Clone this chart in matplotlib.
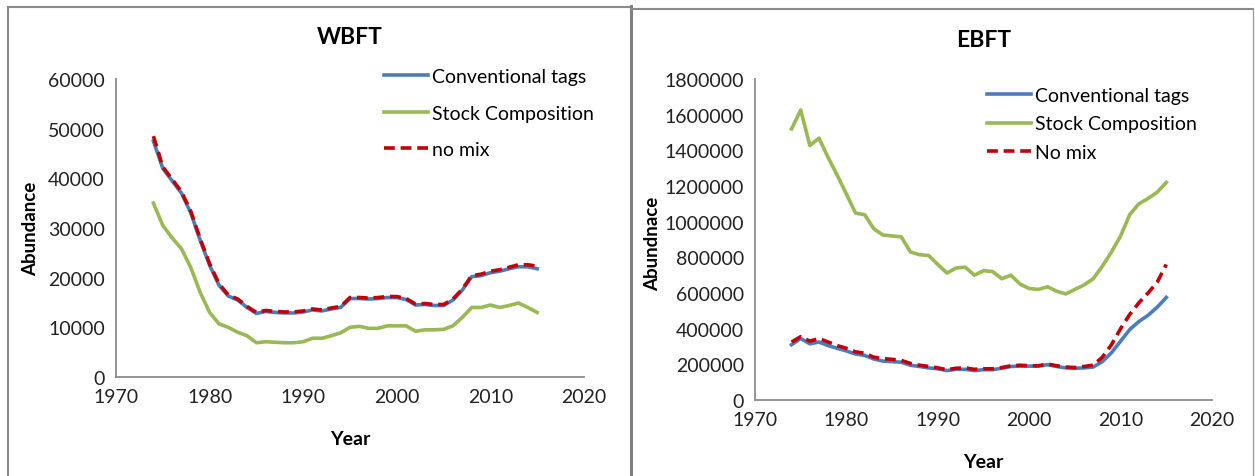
import matplotlib
matplotlib.use("Agg")
import matplotlib.pyplot as plt
from matplotlib.lines import Line2D
from matplotlib.ticker import FuncFormatter

plt.rcParams['font.family'] = ['Lato', 'DejaVu Sans']

years = list(range(1974, 2016))

# WBFT abundance
w_conv = [47500, 42000, 39500, 37000, 33000, 27500, 22500, 18500, 16300, 15500,
          14000, 12800, 13200, 13000, 12900, 12900, 13100, 13500, 13300, 13700,
          14000, 15800, 15800, 15700, 15800, 16000, 16000, 15600, 14500, 14600,
          14400, 14400, 15500, 17500, 20200, 20400, 21000, 21300, 21800, 22200,
          22200, 21800]
w_stock = [35000, 30500, 28000, 25800, 22000, 17000, 13000, 10700, 10000, 9000,
           8300, 6900, 7100, 7000, 6900, 6900, 7100, 7800, 7800, 8300,
           8900, 10000, 10200, 9800, 9800, 10300, 10300, 10300, 9200, 9500,
           9500, 9600, 10300, 12000, 14000, 14000, 14500, 14000, 14400, 14900,
           14000, 13000]
w_nomix = [48500, 42300, 39800, 37300, 33300, 27800, 22800, 18800, 16500, 15700,
           14200, 13000, 13400, 13200, 13100, 13100, 13300, 13700, 13500, 13900,
           14200, 16000, 16000, 15900, 16000, 16200, 16200, 15800, 14700, 14800,
           14600, 14600, 15700, 17700, 20400, 20700, 21300, 21600, 22100, 22600,
           22600, 22300]

# EBFT abundance
e_conv = [310000, 345000, 315000, 325000, 305000, 290000, 275000, 258000, 250000, 230000,
          218000, 215000, 212000, 195000, 188000, 180000, 175000, 165000, 172000, 172000,
          165000, 170000, 170000, 178000, 188000, 190000, 190000, 190000, 198000, 188000,
          180000, 178000, 180000, 185000, 215000, 265000, 330000, 395000, 440000, 475000,
          520000, 575000]
e_stock = [1520000, 1626000, 1427000, 1468000, 1360000, 1260000, 1155000, 1048000, 1039000, 960000,
           925000, 920000, 915000, 830000, 815000, 810000, 760000, 712000, 740000, 745000,
           700000, 725000, 720000, 680000, 700000, 650000, 625000, 620000, 635000, 610000,
           595000, 620000, 645000, 680000, 750000, 830000, 920000, 1040000, 1100000, 1130000,
           1165000, 1220000]
e_nomix = [325000, 355000, 330000, 345000, 325000, 305000, 290000, 270000, 262000, 240000,
           232000, 228000, 222000, 205000, 195000, 188000, 180000, 170000, 178000, 180000,
           172000, 175000, 175000, 182000, 192000, 195000, 192000, 192000, 202000, 192000,
           185000, 182000, 188000, 195000, 240000, 310000, 400000, 480000, 545000, 600000,
           660000, 760000]

BLUE = '#4a7ebb'
GREEN = '#98b954'
RED = '#c0000b'
AXC = '#8c8c8c'

W, H = 1255, 477
fig = plt.figure(figsize=(W / 100, H / 100), dpi=100)


def px_axes(x0, x1, ytop, ybot):
    return fig.add_axes([x0 / W, (H - ybot) / H, (x1 - x0) / W, (ybot - ytop) / H])


def style(ax, ymax, ystep):
    ax.set_xlim(1970, 2020)
    ax.set_ylim(0, ymax)
    ax.set_xticks(range(1970, 2021, 10))
    ax.set_yticks(range(0, ymax + 1, ystep))
    ax.yaxis.set_major_formatter(FuncFormatter(lambda v, p: '%d' % v))
    for s in ('top', 'right'):
        ax.spines[s].set_visible(False)
    for s in ('left', 'bottom'):
        ax.spines[s].set_color(AXC)
        ax.spines[s].set_linewidth(1.3)
    ax.tick_params(length=0, labelsize=14, colors='#222222', pad=8)
    ax.patch.set_alpha(0)


# left panel: WBFT
ax1 = px_axes(116, 584, 80, 378)
style(ax1, 60000, 10000)
ax1.plot(years, w_conv, color=BLUE, lw=2.6, label='Conventional tags')
ax1.plot(years, w_stock, color=GREEN, lw=2.6, label='Stock Composition')
ax1.plot(years, w_nomix, color=RED, lw=2.6, ls=(0, (3, 1.6)), label='no mix')
ax1.set_title('WBFT', fontsize=16.5, fontweight='bold', pad=26)
ax1.set_xlabel('Year', fontsize=14, fontweight='bold', labelpad=18)
ax1.set_ylabel('Abundance', fontsize=13.5, fontweight='bold')
ax1.yaxis.set_label_coords(-0.165, 0.5)
ax1.legend(loc='upper left', bbox_to_anchor=(0.555, 1.062), frameon=False,
           fontsize=14, handlelength=2.3, handletextpad=0.2, labelspacing=1.0,
           borderaxespad=0)

# right panel: EBFT
ax2 = px_axes(755, 1212, 80, 401)
style(ax2, 1800000, 200000)
ax2.plot(years, e_conv, color=BLUE, lw=2.6, label='Conventional tags')
ax2.plot(years, e_stock, color=GREEN, lw=2.6, label='Stock Composition')
ax2.plot(years, e_nomix, color=RED, lw=2.6, ls=(0, (3, 1.6)), label='No mix')
ax2.set_title('EBFT', fontsize=16.5, fontweight='bold', pad=24)
ax2.set_xlabel('Year', fontsize=14, fontweight='bold', labelpad=18)
ax2.set_ylabel('Abundnace', fontsize=13.5, fontweight='bold')
ax2.yaxis.set_label_coords(-0.205, 0.49)
ax2.legend(loc='upper left', bbox_to_anchor=(0.49, 1.0), frameon=False,
           fontsize=14, handlelength=2.3, handletextpad=0.2, labelspacing=0.6,
           borderaxespad=0)

# panel frames
def fline(x0, y0, x1, y1, lw=1.5, c='#8a8a8a'):
    fig.add_artist(Line2D([x0 / W, x1 / W], [1 - y0 / H, 1 - y1 / H],
                          color=c, lw=lw, transform=fig.transFigure))

fline(8, 7.5, 631, 7.5)
fline(8, 7.5, 8, 477)
fline(631, 7, 631, 477, lw=2.2, c='#808080')
fline(631, 9.5, 1253, 9.5)
fline(1253, 9.5, 1253, 477, lw=1.0, c='#a0a0a0')

fig.savefig('out.png', dpi=100)
